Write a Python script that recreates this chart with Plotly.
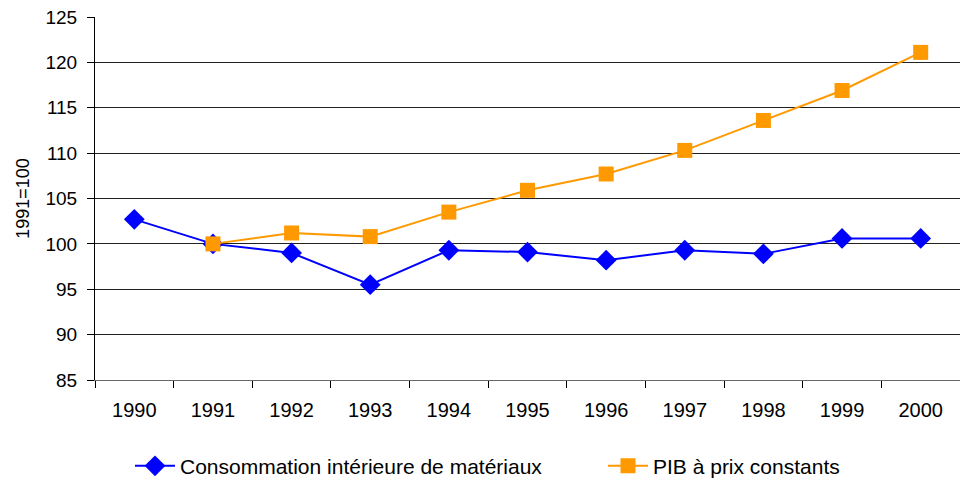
import plotly.graph_objects as go

years = ["1990", "1991", "1992", "1993", "1994", "1995", "1996", "1997", "1998", "1999", "2000"]
conso = [102.7, 100.0, 99.0, 95.5, 99.3, 99.1, 98.2, 99.3, 98.9, 100.6, 100.6]
pib = [None, 100.0, 101.2, 100.8, 103.5, 105.9, 107.7, 110.3, 113.6, 116.9, 121.1]
yticks = [85, 90, 95, 100, 105, 110, 115, 120, 125]

fig = go.Figure()
fig.add_trace(go.Scatter(
    x=years, y=conso, mode="lines+markers",
    name="Consommation intérieure de matériaux",
    line=dict(color="#0000FF", width=2),
    marker=dict(symbol="diamond", size=16, color="#0000FF"),
    legend="legend",
))
fig.add_trace(go.Scatter(
    x=years, y=pib, mode="lines+markers",
    name="PIB à prix constants",
    line=dict(color="#FF9900", width=2),
    marker=dict(symbol="square", size=15, color="#FF9900"),
    legend="legend2",
))

legend_common = dict(y=-0.181, yanchor="top", xanchor="left",
                     font=dict(size=21), itemwidth=40,
                     bgcolor="rgba(0,0,0,0)")

fig.update_layout(
    width=960, height=478,
    margin=dict(l=95, r=0, t=17, b=98, autoexpand=False),
    paper_bgcolor="white", plot_bgcolor="white",
    font=dict(family="Liberation Sans, Arial, sans-serif", size=19, color="#000"),
    showlegend=True,
    legend=dict(x=(130 - 95) / 865, **legend_common),
    legend2=dict(x=(603 - 95) / 865, **legend_common),
    xaxis=dict(
        type="category", range=[-0.5, 10.5], tickson="boundaries",
        ticks="outside", ticklen=7, tickcolor="#000",
        showline=True, linecolor="#666", linewidth=1,
        showgrid=False, ticklabelstandoff=12, automargin=False,
        tickfont=dict(size=20),
    ),
    yaxis=dict(
        range=[85, 125], tickvals=yticks,
        ticks="outside", ticklen=7, tickcolor="#000",
        showline=True, linecolor="#000", linewidth=1,
        showgrid=True, gridcolor="#222", gridwidth=1,
        zeroline=False, ticklabelstandoff=6, automargin=False,
        tickfont=dict(size=19),
        title=dict(text="1991=100", standoff=11, font=dict(size=18)),
    ),
)

fig.write_html("out.html", config={"displayModeBar": False},
               post_script="document.body.style.margin='0';")
